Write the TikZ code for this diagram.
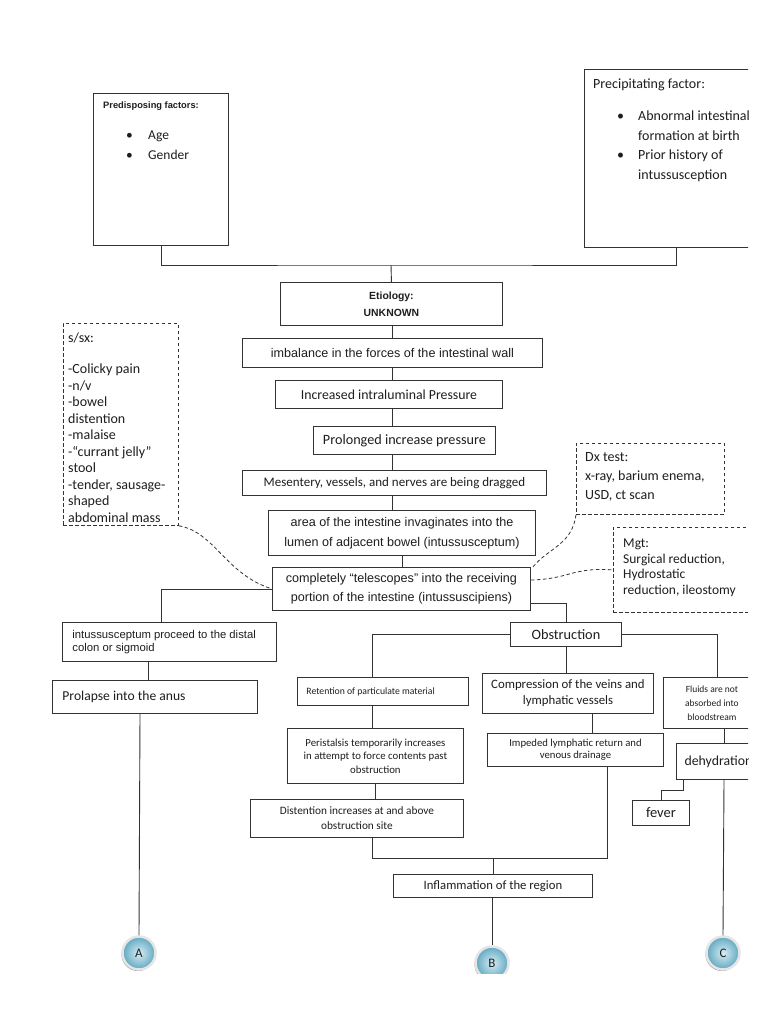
\documentclass[tikz,border=0pt]{standalone}
\usepackage{fontspec}
\setmainfont{Carlito}
\newfontfamily\arial{Liberation Sans}
\usetikzlibrary{calc,shadows}
\newcommand\myfs[2]{\fontsize{#1}{#2}\selectfont}
\definecolor{lnc}{HTML}{333333}
\definecolor{txc}{HTML}{1E1E1E}
\definecolor{ballin}{HTML}{D6EDF4}
\definecolor{ballout}{HTML}{62A8C1}
\begin{document}
\begin{tikzpicture}[x=1pt,y=-1pt,
  box/.style={draw=lnc, line width=0.9pt, inner sep=0pt, anchor=north west, align=center, text=txc},
  dbox/.style={box, dash pattern=on 3.5pt off 2.5pt, line width=0.8pt},
  con/.style={draw=lnc, line width=0.9pt},
  dcon/.style={draw=lnc, line width=0.8pt, dash pattern=on 3.5pt off 2.5pt},
  txt/.style={inner sep=0pt, anchor=base west, align=left, text=txc},
  ballnode/.style={circle, minimum size=33pt, inner sep=0pt, draw=white!90!black, line width=2.5pt,
    inner color=ballin, outer color=ballout, text=txc, font=\myfs{13}{14},
    drop shadow={shadow xshift=-1pt, shadow yshift=-1.5pt, fill=black!50, opacity=0.8}}
]
\useasboundingbox (0,0) rectangle (768,1024);
\fill[white] (0,0) rectangle (768,1024);
\clip (0,0) rectangle (748,1024);

% top factor boxes (multi-line text nodes are placed at the baseline of their last line)
\node[box, minimum width=135, minimum height=152] (pre) at (93,93) {};
\node[txt, font=\arial\bfseries\myfs{9.3}{11}] (pret) at (103,108.5) {Predisposing factors:};
\node[txt, font=\myfs{13.5}{20}] (prel) at (126,159.5) {\makebox[22pt][l]{•}Age\\\makebox[22pt][l]{•}Gender};

\node[box, minimum width=184, minimum height=178] (prec) at (584,69) {};
\node[txt, font=\myfs{14}{17}] (prect) at (593,88.5) {Precipitating factor:};
\node[txt, font=\myfs{14}{19.7}] (precl) at (617,179.5) {\makebox[21pt][l]{•}Abnormal intestinal\\\hspace*{21pt}formation at birth\\\makebox[21pt][l]{•}Prior history of\\\hspace*{21pt}intussusception};

% main chain
\node[box, minimum width=222, minimum height=43, font=\arial\bfseries\myfs{10.4}{17}] (etio) at (280,282) {Etiology:\\UNKNOWN};
\node[box, minimum width=300, minimum height=29, font=\arial\myfs{12.6}{15}] (imb) at (242,338) {imbalance in the forces of the intestinal wall};
\node[box, minimum width=227, minimum height=28, font=\myfs{13.8}{16}] (incp) at (275,380) {Increased intraluminal Pressure};
\node[box, minimum width=182, minimum height=28, font=\myfs{14.2}{16}] (prol) at (313,426) {Prolonged increase pressure};
\node[box, minimum width=304, minimum height=25, font=\myfs{13}{16}] (mes) at (242,470) {Mesentery, vessels, and nerves are being dragged};
\node[box, minimum width=267, minimum height=45, font=\arial\myfs{12.6}{20}] (area) at (268,510) {area of the intestine invaginates into the\\lumen of adjacent bowel (intussusceptum)};
\node[box, minimum width=258, minimum height=43, font=\arial\myfs{12.6}{19}] (tele) at (272,567) {completely “telescopes” into the receiving\\portion of the intestine (intussuscipiens)};

% side dashed boxes
\node[dbox, minimum width=115, minimum height=202] (ssx) at (63,323) {};
\node[txt, font=\myfs{14}{16.5}] (ssxt) at (68,522) {s/sx:\\[14.5pt]-Colicky pain\\-n/v\\-bowel\\distention\\-malaise\\-“currant jelly”\\stool\\-tender, sausage-\\shaped\\abdominal mass};
\node[dbox, minimum width=148, minimum height=71] (dx) at (576,443) {};
\node[txt, font=\myfs{14}{19}] (dxt) at (585,499) {Dx test:\\x-ray, barium enema,\\USD, ct scan};
\node[dbox, minimum width=150, minimum height=85] (mgt) at (613,527) {};
\node[txt, font=\myfs{13.5}{15.7}] (mgtt) at (623,594.5) {Mgt:\\Surgical reduction,\\Hydrostatic\\reduction, ileostomy};

% left branch
\node[box, minimum width=214, minimum height=39, text width=194, align=flush left, inner xsep=10pt, font=\arial\myfs{11.3}{13}] (inp) at (62,622) {intussusceptum proceed to the distal\\colon or sigmoid};
\node[box, minimum width=205, minimum height=33, text width=185, align=flush left, inner xsep=10pt, font=\myfs{13.6}{16}] (prolapse) at (52,680) {Prolapse into the anus};

% obstruction branch
\node[box, minimum width=111, minimum height=24, font=\myfs{14.3}{16}] (obs) at (510,622) {Obstruction};
\node[box, minimum width=171, minimum height=28, text width=153, align=flush left, inner xsep=9pt, font=\myfs{9.7}{12}] (ret) at (297,677) {Retention of particulate material};
\node[box, minimum width=176, minimum height=55, font=\myfs{10.8}{13.5}] (peri) at (287,728) {Peristalsis temporarily increases\\in attempt to force contents past\\obstruction};
\node[box, minimum width=213, minimum height=38, font=\myfs{11.3}{15}] (dist) at (250,799) {Distention increases at and above\\obstruction site};
\node[box, minimum width=171, minimum height=40, font=\myfs{12.8}{16}] (comp) at (482,673) {Compression of the veins and\\lymphatic vessels};
\node[box, minimum width=176, minimum height=33, font=\myfs{10.7}{12}] (imp) at (487,733) {Impeded lymphatic return and\\venous drainage};
\node[box, minimum width=199, minimum height=23, font=\myfs{12.7}{15}] (infl) at (393,874) {Inflammation of the region};
\node[box, minimum width=97, minimum height=51, font=\myfs{9.5}{14}] (flu) at (663,677) {Fluids are not\\absorbed into\\bloodstream};
\node[box, minimum width=84, minimum height=36, font=\myfs{13.8}{16}] (deh) at (676,743) {dehydration};
\node[box, minimum width=57, minimum height=25, font=\myfs{14.5}{16}] (fever) at (632,800) {fever};

% circles
\node[ballnode] (A) at (139,953) {A};
\node[ballnode] (C) at (723,953) {C};
\begin{scope}
\clip (0,0) rectangle (768,973);
\node[ballnode] (B) at (492,963) {B};
\end{scope}

% connectors
\coordinate (j1) at (391,265);
\draw[con] (pre.south) |- (j1) -| (prec.south);
\draw[con] (j1) -- (etio.north);
\coordinate (cx) at (392.5,0);
\draw[con] (cx |- etio.south) -- (cx |- imb.north);
\draw[con] (cx |- imb.south) -- (cx |- incp.north);
\draw[con] (cx |- incp.south) -- (cx |- prol.north);
\draw[con] (cx |- prol.south) -- (cx |- mes.north);
\draw[con] (cx |- mes.south) -- (cx |- area.north);
\draw[con] (area.south) -- (area.south |- tele.north);

\draw[con] (tele.west) -| ($(inp.north west)+(99,0)$);
\draw[con] ($(inp.south west)+(86,0)$) coordinate (a1) -- (a1 |- prolapse.north);
\draw[con] ($(prolapse.south west)+(88,0)$) -- (A.north);

\draw[con] ($(tele.south east)+(0,-7)$) -| (obs.north);
\draw[con] (obs.west) -| ($(ret.north west)+(75,0)$);
\draw[con] ($(ret.south west)+(75,0)$) coordinate (r1) -- (r1 |- peri.north);
\draw[con] ($(peri.south west)+(88,0)$) coordinate (p1) -- (p1 |- dist.north);
\draw[con] (obs.south) -- (obs.south |- comp.north);
\draw[con] ($(comp.south west)+(110,0)$) coordinate (c1) -- (c1 |- imp.north);
\coordinate (j3) at (493,858);
\draw[con] ($(dist.south west)+(122,0)$) |- (j3) -| ($(imp.south west)+(120,0)$);
\draw[con] (j3) -- (j3 |- infl.north);
\draw[con] (B.north |- infl.south) -- (B.north);

\draw[con] (obs.east) -| ($(flu.north west)+(54,0)$);
\draw[con] ($(flu.south west)+(61,0)$) coordinate (f1) -- (f1 |- deh.north);
\draw[con] ($(deh.south west)+(7,0)$) -- ++(0,11) -| (fever.north);
\draw[con] ($(deh.south west)+(48,0)$) -- (C.north);

% dashed links
\draw[dcon] (ssx.south east) .. controls (215,532) and (225,574) .. (tele.west);
\draw[dcon] (dx.south west) .. controls (572,545) and (548,548) .. ($(tele.north east)+(2,0)$);
\draw[dcon] ($(tele.north east)+(0,13)$) .. controls (570,579) and (572,567) .. (mgt.west);
\end{tikzpicture}
\end{document}
